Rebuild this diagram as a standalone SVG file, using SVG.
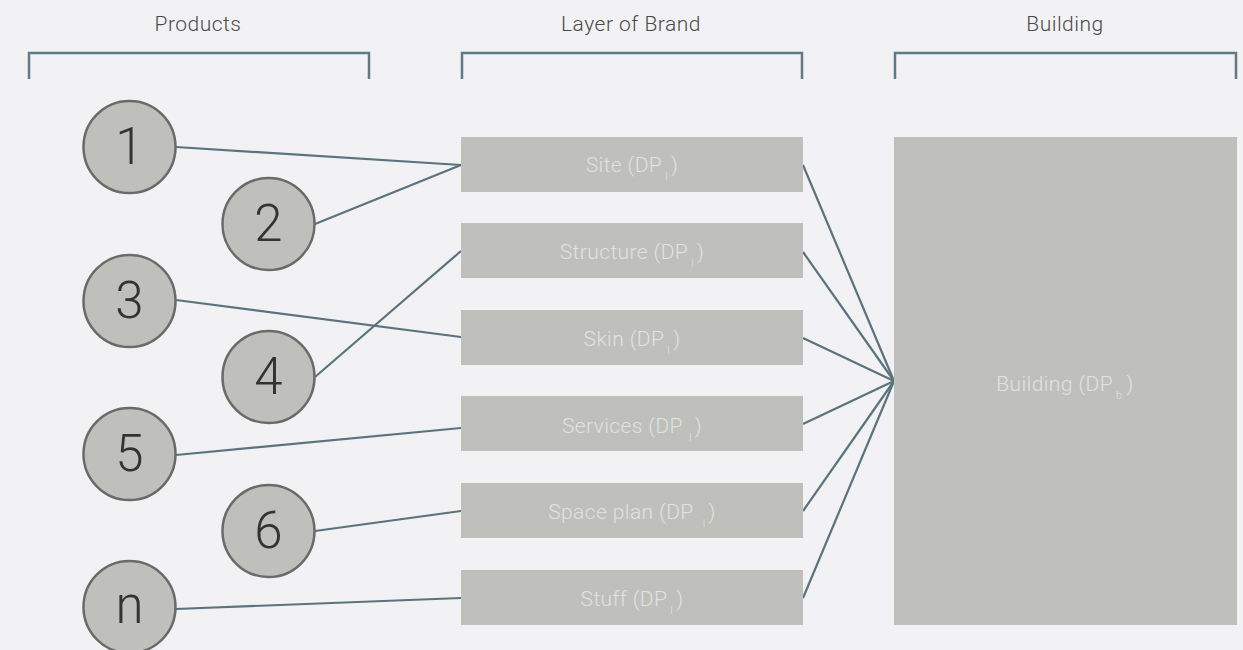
<svg xmlns="http://www.w3.org/2000/svg" width="1243" height="650" viewBox="0 0 1243 650">
  <style>
    .bg { fill: #f2f2f4; }
    .bracket { fill: none; stroke: #627a84; stroke-width: 2.5; }
    .head { font-family: "Roboto", "Liberation Sans", sans-serif; font-weight: 300; font-size: 21px; letter-spacing: 0.5px; fill: #4a4a4a; text-anchor: middle; }
    .circ { fill: #bfc0bc; stroke: #6a6a6a; stroke-width: 2.5; }
    .num { font-family: "Roboto", "Liberation Sans", sans-serif; font-weight: 300; font-size: 51px; fill: #333; text-anchor: middle; }
    .box { fill: #bfc0bc; }
    .lbl { font-family: "Roboto", "Liberation Sans", sans-serif; font-weight: 300; font-size: 21px; letter-spacing: 0.4px; fill: #e2e2e2; text-anchor: middle; }
    .sub { font-size: 11px; }
    .conn { fill: none; stroke: #5a737d; stroke-width: 2.2; }
  </style>
  <rect class="bg" x="0" y="0" width="1243" height="650"/>

  <!-- column headers -->
  <g id="col-products">
    <text class="head" x="198" y="31">Products</text>
    <path class="bracket" d="M29,79 V53 H369 V79"/>
  </g>
  <g id="col-layers">
    <text class="head" x="631" y="31">Layer of Brand</text>
    <path class="bracket" d="M462,79 V53 H802 V79"/>
  </g>
  <g id="col-building">
    <text class="head" x="1065" y="31">Building</text>
    <path class="bracket" d="M895,79 V53 H1236 V79"/>
  </g>

  <!-- connectors -->
  <g id="connectors">
    <line class="conn" x1="176" y1="147" x2="461" y2="165"/>
    <line class="conn" x1="315" y1="224" x2="461" y2="165"/>
    <line class="conn" x1="176" y1="300" x2="461" y2="337"/>
    <line class="conn" x1="315" y1="377" x2="461" y2="251"/>
    <line class="conn" x1="176" y1="455" x2="461" y2="428"/>
    <line class="conn" x1="315" y1="531" x2="461" y2="511"/>
    <line class="conn" x1="176" y1="609" x2="461" y2="598"/>
    <line class="conn" x1="803" y1="165" x2="894" y2="381"/>
    <line class="conn" x1="803" y1="252" x2="894" y2="381"/>
    <line class="conn" x1="803" y1="338" x2="894" y2="381"/>
    <line class="conn" x1="803" y1="424" x2="894" y2="381"/>
    <line class="conn" x1="803" y1="511" x2="894" y2="381"/>
    <line class="conn" x1="803" y1="598" x2="894" y2="381"/>
  </g>

  <!-- products -->
  <g id="p1"><circle class="circ" cx="129.5" cy="147" r="46"/><text class="num" x="129.5" y="164">1</text></g>
  <g id="p2"><circle class="circ" cx="268.5" cy="224" r="46"/><text class="num" x="268.5" y="241">2</text></g>
  <g id="p3"><circle class="circ" cx="129.5" cy="301" r="46"/><text class="num" x="129.5" y="318">3</text></g>
  <g id="p4"><circle class="circ" cx="268.5" cy="377" r="46"/><text class="num" x="268.5" y="394">4</text></g>
  <g id="p5"><circle class="circ" cx="129.5" cy="454" r="46"/><text class="num" x="129.5" y="471">5</text></g>
  <g id="p6"><circle class="circ" cx="268.5" cy="531" r="46"/><text class="num" x="268.5" y="548">6</text></g>
  <g id="pn"><circle class="circ" cx="129.5" cy="607" r="46"/><text class="num" x="129.5" y="623">n</text></g>

  <!-- layers -->
  <g id="l-site"><rect class="box" x="461" y="137" width="342" height="55"/>
    <text class="lbl" x="632" y="172">Site (DP<tspan class="sub" dx="3" dy="8">l</tspan><tspan dx="3" dy="-8">)</tspan></text></g>
  <g id="l-structure"><rect class="box" x="461" y="223" width="342" height="55"/>
    <text class="lbl" x="632" y="259">Structure (DP<tspan class="sub" dx="3" dy="8">l</tspan><tspan dx="3" dy="-8">)</tspan></text></g>
  <g id="l-skin"><rect class="box" x="461" y="310" width="342" height="55"/>
    <text class="lbl" x="632" y="346">Skin (DP<tspan class="sub" dx="3" dy="8">l</tspan><tspan dx="3" dy="-8">)</tspan></text></g>
  <g id="l-services"><rect class="box" x="461" y="396" width="342" height="55"/>
    <text class="lbl" x="632" y="433">Services (DP<tspan class="sub" dx="6" dy="8">l</tspan><tspan dx="3" dy="-8">)</tspan></text></g>
  <g id="l-spaceplan"><rect class="box" x="461" y="483" width="342" height="55"/>
    <text class="lbl" x="632" y="519">Space plan (DP<tspan class="sub" dx="9" dy="8">l</tspan><tspan dx="3" dy="-8">)</tspan></text></g>
  <g id="l-stuff"><rect class="box" x="461" y="570" width="342" height="55"/>
    <text class="lbl" x="632" y="606">Stuff (DP<tspan class="sub" dx="3" dy="8">l</tspan><tspan dx="3" dy="-8">)</tspan></text></g>

  <!-- building -->
  <g id="building"><rect class="box" x="894" y="137" width="343" height="488"/>
    <text class="lbl" x="1065" y="391">Building (DP<tspan class="sub" dx="3" dy="8">b</tspan><tspan dx="4" dy="-8">)</tspan></text></g>
</svg>
